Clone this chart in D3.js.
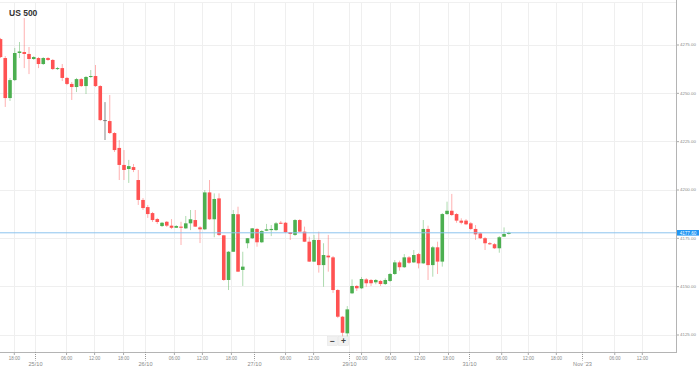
<!DOCTYPE html>
<html>
<head>
<meta charset="utf-8">
<script src="https://cdn.jsdelivr.net/npm/d3@7"></script>
<style>
body { margin: 0; background: #fff; }
svg { display: block; font-family: "Liberation Sans", Arial, sans-serif; }
</style>
</head>
<body>
<svg id="chart" width="699" height="369"></svg>
<script>
// hourly candles, US 500
var opens = [4277.8, 4268.0, 4247.3, 4256.6, 4270.6, 4271.1, 4270.1, 4267.5, 4268.0, 4264.9,
  4268.0, 4267.0, 4262.3, 4262.8, 4257.7, 4254.6, 4253.0, 4257.1, 4253.5, 4258.2,
  4258.7, 4253.5, 4235.9, 4235.4, 4229.2, 4221.5, 4212.7, 4210.6, 4211.6, 4204.9,
  4194.6, 4190.9, 4187.8, 4184.7, 4181.1, 4183.3, 4181.3, 4180.2, 4180.8, 4179.9,
  4182.5, 4184.2, 4180.4, 4179.4, 4198.5, 4184.6, 4195.4, 4176.3, 4153.2, 4167.8,
  4187.2, 4158.4, 4172.2, 4174.8, 4179.6, 4172.7, 4178.7, 4179.0, 4179.0, 4182.8,
  4182.8, 4177.9, 4176.5, 4184.2, 4178.2, 4173.0, 4162.7, 4173.9, 4160.9, 4165.8,
  4164.9, 4148.0, 4134.2, 4125.6, 4146.3, 4150.1, 4148.9, 4153.5, 4153.2, 4152.0,
  4152.7, 4151.1, 4152.7, 4156.3, 4162.3, 4159.8, 4164.9, 4162.3, 4166.6, 4161.8,
  4179.6, 4160.9, 4170.1, 4162.7, 4187.3, 4189.0, 4187.3, 4183.9, 4183.9, 4182.5,
  4179.6, 4177.3, 4174.8, 4172.2, 4171.7, 4169.6, 4175.6, 4177.0];
var highs = [4278.4, 4269.0, 4257.7, 4273.2, 4276.3, 4288.7, 4273.7, 4269.0, 4268.5, 4268.5,
  4268.5, 4267.5, 4263.4, 4264.9, 4258.2, 4255.6, 4257.7, 4257.7, 4258.7, 4261.8,
  4264.4, 4254.0, 4245.2, 4248.9, 4229.7, 4225.6, 4220.4, 4215.3, 4213.2, 4210.1,
  4195.6, 4192.0, 4188.4, 4185.3, 4183.2, 4183.7, 4184.7, 4181.6, 4183.3, 4186.3,
  4189.4, 4189.4, 4181.1, 4199.7, 4204.9, 4198.0, 4198.0, 4176.5, 4168.2, 4189.4,
  4191.1, 4167.8, 4174.9, 4180.1, 4180.1, 4179.0, 4182.2, 4181.6, 4183.2, 4183.7,
  4183.2, 4178.0, 4184.7, 4184.7, 4180.8, 4175.6, 4176.5, 4178.2, 4172.2, 4176.5,
  4165.6, 4148.5, 4134.6, 4139.7, 4153.5, 4150.6, 4154.7, 4154.2, 4153.7, 4153.7,
  4153.2, 4154.1, 4156.8, 4163.5, 4163.2, 4166.6, 4165.6, 4168.7, 4167.2, 4184.2,
  4181.3, 4170.8, 4173.0, 4187.8, 4193.7, 4197.7, 4187.8, 4185.1, 4184.7, 4183.2,
  4181.6, 4178.0, 4175.4, 4172.8, 4172.3, 4175.9, 4180.4, 4178.2];
var lows = [4268.0, 4242.7, 4245.8, 4256.1, 4268.0, 4262.8, 4259.7, 4267.0, 4262.8, 4264.4,
  4266.5, 4261.8, 4261.8, 4256.1, 4254.0, 4246.3, 4250.4, 4253.0, 4249.4, 4257.7,
  4253.0, 4235.4, 4225.6, 4228.7, 4219.4, 4204.9, 4204.9, 4203.4, 4209.0, 4192.0,
  4189.4, 4185.3, 4183.2, 4182.2, 4180.6, 4180.6, 4179.6, 4180.1, 4171.3, 4179.6,
  4179.0, 4180.6, 4172.3, 4179.0, 4184.2, 4175.3, 4175.9, 4152.7, 4148.0, 4167.7,
  4157.3, 4150.1, 4169.6, 4174.4, 4170.4, 4172.3, 4178.5, 4175.9, 4178.5, 4182.2,
  4177.5, 4173.9, 4175.9, 4178.0, 4172.8, 4162.5, 4162.5, 4157.0, 4149.7, 4157.5,
  4146.5, 4133.5, 4123.5, 4123.2, 4145.9, 4147.5, 4148.5, 4149.7, 4150.1, 4151.0,
  4150.1, 4150.6, 4152.2, 4155.8, 4158.0, 4159.4, 4161.5, 4162.0, 4159.2, 4161.5,
  4153.2, 4154.9, 4156.3, 4160.1, 4186.8, 4186.3, 4182.8, 4182.0, 4181.6, 4179.0,
  4173.9, 4174.4, 4168.7, 4171.3, 4169.2, 4167.3, 4175.4, 4176.7];
var closes = [4268.5, 4247.3, 4256.6, 4270.6, 4271.4, 4270.1, 4267.5, 4268.5, 4264.9, 4268.0,
  4267.0, 4262.3, 4262.8, 4257.7, 4254.6, 4253.0, 4257.1, 4253.5, 4258.2, 4258.7,
  4253.5, 4235.9, 4235.9, 4229.2, 4220.4, 4212.7, 4210.1, 4212.1, 4210.1, 4194.6,
  4190.4, 4187.3, 4184.2, 4183.2, 4182.8, 4181.3, 4180.2, 4181.1, 4180.2, 4182.5,
  4184.6, 4180.8, 4179.4, 4198.5, 4184.6, 4195.1, 4176.5, 4153.2, 4167.8, 4187.3,
  4157.5, 4160.1, 4174.8, 4179.9, 4172.7, 4178.5, 4179.4, 4179.6, 4182.5, 4182.5,
  4177.9, 4177.0, 4184.2, 4178.2, 4173.0, 4162.7, 4173.9, 4160.9, 4166.1, 4164.9,
  4148.0, 4134.2, 4125.9, 4138.0, 4150.1, 4148.9, 4153.7, 4151.5, 4151.5, 4153.2,
  4151.1, 4153.2, 4156.3, 4162.3, 4159.8, 4164.9, 4162.1, 4166.1, 4161.8, 4179.6,
  4160.9, 4170.1, 4162.7, 4187.3, 4189.0, 4186.8, 4183.9, 4182.8, 4182.0, 4179.6,
  4176.8, 4174.8, 4172.2, 4171.7, 4169.6, 4175.3, 4177.0, 4177.6];
var lastPrice = 4177.60;

var priceTicks = [4125, 4150, 4175, 4200, 4225, 4250, 4275];
// positions on the candle (hour slot) axis
var timeTickSlots = [2.8, 13.8, 19.7, 25.8, 36.5, 42.4, 48.5, 59.9, 65.8, 75.9, 82.0, 88.1, 94.2, 105.4, 111.0, 116.9, 129.2, 135.0];
var timeTickLabels = ["18:00", "06:00", "12:00", "18:00", "06:00", "12:00", "18:00", "06:00", "12:00", "00:00", "06:00", "12:00", "18:00", "06:00", "12:00", "18:00", "06:00", "12:00"];
var dateTickSlots = [7.3, 30.4, 53.4, 73.4, 98.6, 122.4];
var dateTickLabels = ["25/10", "26/10", "27/10", "29/10", "31/10", "Nov '23"];

var plotRight = 676, plotTop = 2, plotBottom = 352;
var upColor = "#4caf50", downColor = "#ff5252", flatColor = "#7a7a7a";

var svg = d3.select("#chart");

var x = d3.scaleLinear()
	.domain([0, opens.length - 1])
	.range([0.5, 508.8]);
var y = d3.scaleLinear()
	.domain([4125, 4275])
	.range([334.5, 44.5]);

svg.append("defs")
	.append("clipPath")
	.attr("id", "plotClip")
	.append("rect")
	.attr("x", 0)
	.attr("y", 0)
	.attr("width", plotRight)
	.attr("height", plotBottom);

// grid
var grid = svg.append("g").attr("class", "grid");
grid.selectAll("line.h")
	.data(priceTicks)
	.enter()
	.append("line")
	.attr("class", "h")
	.attr("x1", 0)
	.attr("x2", plotRight)
	.attr("y1", function(d){ return Math.round(y(d)) + 0.5; })
	.attr("y2", function(d){ return Math.round(y(d)) + 0.5; })
	.attr("stroke", "#efefef");
grid.selectAll("line.v")
	.data(timeTickSlots.concat(dateTickSlots))
	.enter()
	.append("line")
	.attr("class", "v")
	.attr("x1", function(d){ return Math.round(x(d)) + 0.5; })
	.attr("x2", function(d){ return Math.round(x(d)) + 0.5; })
	.attr("y1", plotTop)
	.attr("y2", plotBottom)
	.attr("stroke", "#efefef");

svg.append("line")
	.attr("x1", 0).attr("x2", plotRight)
	.attr("y1", plotTop + 0.5).attr("y2", plotTop + 0.5)
	.attr("stroke", "#f0f0f0");

// candles
var candles = d3.range(opens.length).map(function(i){
	return { i: i, o: opens[i], h: highs[i], l: lows[i], c: closes[i] };
});
function candleColor(d){
	if (d.c > d.o) return upColor;
	if (d.c < d.o) return downColor;
	return flatColor;
}
var bodyW = 3.6;
var candleG = svg.append("g").attr("clip-path", "url(#plotClip)");
candleG.selectAll("line.wick")
	.data(candles)
	.enter()
	.append("line")
	.attr("class", "wick")
	.attr("x1", function(d){ return x(d.i); })
	.attr("x2", function(d){ return x(d.i); })
	.attr("y1", function(d){ return y(d.h); })
	.attr("y2", function(d){ return y(d.l); })
	.attr("stroke", candleColor)
	.attr("stroke-opacity", function(d){ return d.c == d.o ? 0.9 : 0.45; })
	.attr("stroke-width", 1);
candleG.selectAll("rect.body")
	.data(candles)
	.enter()
	.append("rect")
	.attr("class", "body")
	.attr("x", function(d){ return x(d.i) - bodyW / 2; })
	.attr("y", function(d){ return y(Math.max(d.o, d.c)); })
	.attr("width", bodyW)
	.attr("height", function(d){ return Math.max(1, Math.abs(y(d.o) - y(d.c))); })
	.attr("fill", candleColor);

// last price line
svg.append("line")
	.attr("x1", 0)
	.attr("x2", plotRight)
	.attr("y1", y(lastPrice))
	.attr("y2", y(lastPrice))
	.attr("stroke", "#8cc4ee")
	.attr("stroke-width", 1);

// frame
svg.append("line")
	.attr("x1", plotRight + 0.5).attr("x2", plotRight + 0.5)
	.attr("y1", 0).attr("y2", plotBottom)
	.attr("stroke", "#b4b4b4");
svg.append("line")
	.attr("x1", 0).attr("x2", plotRight + 1)
	.attr("y1", plotBottom + 0.5).attr("y2", plotBottom + 0.5)
	.attr("stroke", "#b4b4b4");

// price axis
var yAxis = svg.append("g")
	.attr("transform", "translate(" + (plotRight + 1) + ",0)")
	.call(d3.axisRight(y)
		.tickValues(priceTicks)
		.tickFormat(d3.format(".2f"))
		.tickSize(2)
		.tickPadding(1))
	.attr("font-size", 4.4)
	.attr("font-family", null);
yAxis.select(".domain").remove();
yAxis.selectAll("line").attr("stroke", "#aaa");
yAxis.selectAll("text").attr("fill", "#8a8a8a");

var priceTag = svg.append("g")
	.attr("transform", "translate(" + (plotRight + 1) + "," + y(lastPrice) + ")");
priceTag.append("rect")
	.attr("x", 0)
	.attr("y", -2.8)
	.attr("width", 22)
	.attr("height", 5.6)
	.attr("fill", "#2196f3");
priceTag.append("text")
	.attr("x", 11)
	.attr("y", 1.7)
	.attr("text-anchor", "middle")
	.attr("font-size", 4.6)
	.attr("fill", "#fff")
	.text(d3.format(".2f")(lastPrice));

// time axis
var xAxis = svg.append("g")
	.attr("transform", "translate(0," + (plotBottom + 0.5) + ")")
	.call(d3.axisBottom(x)
		.tickValues(timeTickSlots)
		.tickFormat(function(d, i){ return timeTickLabels[i]; })
		.tickSize(2.5)
		.tickPadding(2))
	.attr("font-size", 4.5)
	.attr("font-family", null);
xAxis.select(".domain").remove();
xAxis.selectAll("line").attr("stroke", "#aaa");
xAxis.selectAll("text").attr("fill", "#8a8a8a");

var dateTicks = svg.append("g")
	.selectAll("g")
	.data(dateTickSlots)
	.enter()
	.append("g")
	.attr("transform", function(d){ return "translate(" + (Math.round(x(d)) + 0.5) + "," + plotBottom + ")"; });
dateTicks.append("line")
	.attr("y1", 0)
	.attr("y2", 8.5)
	.attr("stroke", "#999")
	.attr("stroke-dasharray", "1,1");
dateTicks.append("text")
	.attr("y", 14.3)
	.attr("text-anchor", "middle")
	.attr("font-size", 5.6)
	.attr("fill", "#8a8a8a")
	.text(function(d, i){ return dateTickLabels[i]; });

// title
svg.append("text")
	.attr("x", 9)
	.attr("y", 15.8)
	.attr("font-size", 8.5)
	.attr("font-weight", "bold")
	.attr("fill", "#333")
	.text("US 500");

// zoom buttons
var zoomBtns = svg.append("g").attr("transform", "translate(327.5,336.5)");
zoomBtns.selectAll("g")
	.data(["\u2212", "+"])
	.enter()
	.append("g")
	.attr("transform", function(d, i){ return "translate(" + (i * 11) + ",0)"; })
	.each(function(d){
		var b = d3.select(this);
		b.append("rect")
			.attr("width", 10)
			.attr("height", 9)
			.attr("fill", "#f1f1f1")
			.attr("stroke", "#e2e2e2")
			.attr("stroke-width", 0.5);
		b.append("text")
			.attr("x", 5)
			.attr("y", 7.2)
			.attr("text-anchor", "middle")
			.attr("font-size", 8.5)
			.attr("font-weight", "bold")
			.attr("fill", "#444")
			.text(d);
	});
</script>
</body>
</html>
